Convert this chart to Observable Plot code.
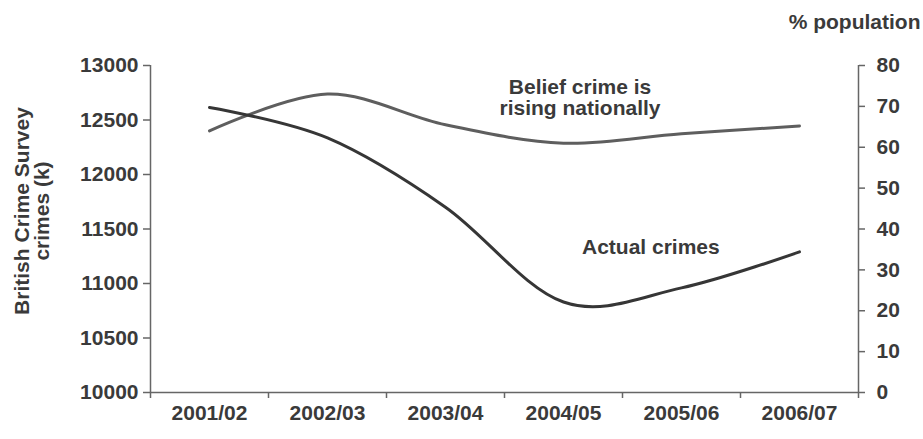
<!DOCTYPE html>
<html>
<head>
<meta charset="utf-8">
<script src="https://cdn.jsdelivr.net/npm/d3@7"></script>
<script src="https://cdn.jsdelivr.net/npm/@observablehq/plot@0.6"></script>
<style>
  html, body { margin: 0; padding: 0; background: #fff; }
</style>
</head>
<body>
<div id="chart"></div>
<script>
// ---- data ----
const categories = ["2001/02", "2002/03", "2003/04", "2004/05", "2005/06", "2006/07"];
const actualCrimes = [12615, 12335, 11700, 10830, 10960, 11290];   // BCS crimes (k), left axis
const beliefRising = [64, 73, 65.5, 61, 63.3, 65.2];                // % population, right axis
const leftTicks = [10000, 10500, 11000, 11500, 12000, 12500, 13000];
const rightTicks = [0, 10, 20, 30, 40, 50, 60, 70, 80];
const yTitle = "British Crime Survey\ncrimes (k)";
const rightTitle = "% population";
const notes = [
  {x: 3.64, y: 12702, text: "Belief crime is\nrising nationally"},
  {x: 4.24, y: 11330, text: "Actual crimes"}
];

// map right-axis (%) values into the left-axis domain
const leftMin = 10000, leftMax = 13000, rightMax = 80;
const toLeft = v => leftMin + v * (leftMax - leftMin) / rightMax;
const fromLeft = d => Math.round((d - leftMin) * rightMax / (leftMax - leftMin));

const textColor = "#3a3a3a";
const axisColor = "#666";
const font = "'Liberation Sans', Arial, Helvetica, sans-serif";
const smooth = d3.curveCardinal.tension(0);

const chart = Plot.plot({
  width: 923,
  height: 439,
  marginLeft: 150,
  marginRight: 65,
  marginTop: 65,
  marginBottom: 47,
  style: {fontFamily: font, fontSize: "21px", fontWeight: "bold", color: textColor, background: "#fff"},
  x: {domain: [0, categories.length], axis: null},
  y: {domain: [leftMin, leftMax], axis: null},
  marks: [
    Plot.ruleX([0, categories.length], {stroke: axisColor, strokeWidth: 1.5}),
    Plot.ruleY([leftMin], {stroke: axisColor, strokeWidth: 1.5}),
    Plot.axisY(leftTicks, {anchor: "left", tickSize: 7, tickPadding: 5, stroke: axisColor, strokeWidth: 1.5,
      fill: textColor, fontSize: 21, fontWeight: "bold", tickFormat: d => String(d), label: null}),
    Plot.axisY(rightTicks.map(toLeft), {anchor: "right", tickSize: 6, tickPadding: 12, stroke: axisColor, strokeWidth: 1.5,
      fill: textColor, fontSize: 21, fontWeight: "bold", tickFormat: d => String(fromLeft(d)), label: null}),
    Plot.axisX(d3.range(categories.length + 1), {anchor: "bottom", tickSize: 6, stroke: axisColor, strokeWidth: 1.5,
      tickFormat: () => "", label: null}),
    Plot.axisX(categories.map((c, i) => i + 0.5), {anchor: "bottom", tickSize: 0, tickPadding: 13,
      fill: textColor, fontSize: 21, fontWeight: "bold", tickFormat: v => categories[Math.floor(v)], label: null}),
    Plot.line(beliefRising, {x: (d, i) => i + 0.5, y: d => toLeft(d), curve: smooth, stroke: "#5e5e5e", strokeWidth: 3}),
    Plot.line(actualCrimes, {x: (d, i) => i + 0.5, y: d => d, curve: smooth, stroke: "#363636", strokeWidth: 3}),
    Plot.text(notes, {x: "x", y: "y", text: "text", lineAnchor: "middle", lineHeight: 1.0, textAnchor: "middle",
      fill: textColor, fontSize: 21, fontWeight: "bold"}),
    Plot.text([yTitle], {frameAnchor: "left", rotate: -90, dx: -118, dy: -18, lineHeight: 0.95, textAnchor: "middle",
      lineAnchor: "middle", fill: textColor, fontSize: 21, fontWeight: "bold"}),
    Plot.text([rightTitle], {frameAnchor: "top-right", textAnchor: "end", dx: 62, dy: -43, lineAnchor: "middle",
      fill: textColor, fontSize: 21, fontWeight: "bold"})
  ]
});
document.getElementById("chart").appendChild(chart);
</script>
</body>
</html>
